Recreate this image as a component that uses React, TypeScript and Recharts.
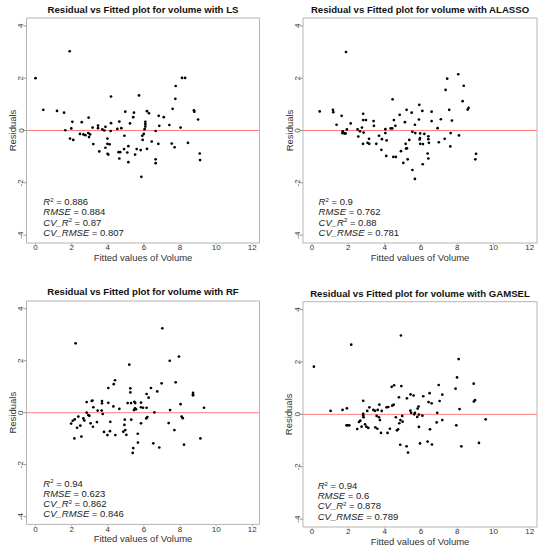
import React from 'react';
import { ScatterChart, Scatter, XAxis, YAxis, ReferenceLine, ReferenceArea } from 'recharts';

const FONT = '"Liberation Sans", Arial, sans-serif';

const xTicks = [0, 2, 4, 6, 8, 10, 12];
const yTicks = [-4, -2, 0, 2, 4];
const xDomain = [-0.5, 12.4];
const yDomain = [-4.3, 4.3];

const methods = ['LS', 'ALASSO', 'RF', 'GAMSEL'];

// stats: R^2, RMSE, CV_R^2, CV_RMSE
const statsLS = ['0.886', '0.884', '0.87', '0.807'];
const statsALASSO = ['0.9', '0.762', '0.88', '0.781'];
const statsRF = ['0.94', '0.623', '0.862', '0.846'];
const statsGAMSEL = ['0.94', '0.6', '0.878', '0.789'];

const fittedLS = [
  1.89, 0.0, 8.11, 8.28, 7.76, 7.74, 4.18, 5.73, 7.59, 0.43, 1.19, 1.58, 8.77, 8.79, 9.0, 2.94,
  2.04, 2.56, 4.97, 5.45, 5.41, 6.17, 6.28, 6.82, 7.1, 5.23, 4.64, 4.18, 6.08, 6.08, 6.08, 6.04,
  6.85, 7.41, 8.03, 1.65, 1.98, 3.16, 3.46, 3.46, 3.7, 3.87, 4.16, 3.81, 4.53, 4.75, 6.65, 2.46,
  2.65, 2.76, 2.92, 3.02, 2.96, 1.91, 2.09, 3.2, 3.98, 4.92, 5.91, 5.99, 5.93, 3.98, 4.1, 3.53,
  3.87, 3.99, 4.03, 4.6, 4.69, 4.64, 4.9, 5.08, 5.14, 5.14, 5.51, 5.6, 5.82, 6.17, 6.43, 6.8,
  7.54, 7.7, 8.44, 6.65, 6.65, 5.86, 9.09, 9.11,
];
const residLS = [
  3.03, 2.0, 2.01, 2.01, 1.7, 1.21, 1.3, 1.34, 0.83, 0.79, 0.75, 0.68, 0.77, 0.72, 0.42, 0.49,
  0.33, 0.32, 0.72, 0.68, 0.51, 0.74, 0.66, 0.56, 0.51, 0.27, 0.34, 0.28, 0.33, 0.24, 0.15, 0.05,
  0.18, 0.21, 0.11, 0.01, 0.08, 0.11, 0.19, 0.09, 0.04, 0.14, -0.02, 0.0, 0.06, 0.09, -0.02, -0.13,
  -0.15, -0.18, -0.1, -0.15, -0.25, -0.31, -0.36, -0.52, -0.31, -0.2, -0.2, -0.13, -0.36, -0.51, -0.53, -0.8,
  -0.66, -0.89, -0.92, -0.83, -0.83, -1.07, -0.71, -0.84, -0.6, -1.21, -0.92, -0.71, -0.75, -0.7, -0.42, -0.51,
  -0.5, -0.64, -0.47, -1.1, -1.25, -1.77, -0.88, -1.13,
];

const fittedALASSO = [
  1.87, 8.06, 7.45, 8.36, 7.36, 8.3, 4.44, 8.63, 8.58, 0.42, 1.15, 1.17, 1.63, 1.35, 2.13, 1.69,
  1.78, 1.85, 1.67, 1.92, 2.51, 2.55, 2.64, 2.75, 2.82, 2.82, 2.97, 2.84, 2.81, 3.06, 3.14, 3.15,
  3.39, 3.41, 3.54, 3.69, 3.85, 3.82, 4.04, 4.04, 4.11, 4.09, 4.33, 4.42, 4.51, 4.59, 4.48, 4.62,
  4.83, 4.9, 5.12, 5.21, 5.16, 5.18, 5.23, 5.03, 5.27, 5.36, 5.49, 5.53, 5.67, 5.69, 5.89, 5.91,
  5.96, 5.95, 5.93, 5.96, 6.08, 6.19, 6.11, 6.1, 5.53, 5.67, 6.41, 6.41, 6.44, 6.37, 6.41, 6.59,
  6.59, 6.92, 6.99, 7.1, 7.31, 7.56, 7.71, 7.64, 7.62, 8.1, 9.04, 9.0,
];
const residALASSO = [
  3.0, 2.15, 1.98, 1.71, 1.55, 1.12, 1.19, 0.87, 0.8, 0.73, 0.79, 0.7, 0.56, 0.22, 0.27, -0.03,
  -0.11, -0.11, -0.1, 0.04, 0.04, -0.23, -0.03, 0.11, 0.64, 0.4, 0.4, -0.08, -0.51, -0.47, -0.32, -0.51,
  0.36, 0.18, -0.51, -0.2, -0.33, -0.74, 0.05, -0.1, -0.38, -0.97, 0.08, 0.08, 0.4, 0.18, -1.01, -1.01,
  0.6, -0.79, 0.32, 0.79, -0.51, -0.69, -0.68, -1.24, -1.1, -0.36, 0.68, -0.05, 0.22, -0.1, 0.42, 0.98,
  -0.11, -0.29, -0.34, -0.51, 0.75, -0.13, -0.52, -1.29, -1.51, -1.85, -0.22, -0.33, -0.47, -0.88, -1.07, 0.72,
  0.36, 0.09, -0.45, 0.43, -0.32, 0.79, 0.38, -0.1, -0.61, -0.19, -0.89, -1.1,
];

const fittedRF = [
  7.02, 2.22, 7.94, 7.43, 5.19, 7.76, 4.4, 4.33, 4.03, 6.98, 6.39, 6.74, 5.25, 5.25, 8.72, 8.72,
  8.72, 6.15, 6.26, 2.83, 3.11, 3.15, 3.68, 3.68, 4.03, 4.31, 4.64, 5.1, 5.29, 5.47, 5.52, 5.84,
  5.95, 6.15, 5.51, 5.45, 5.56, 5.84, 3.2, 3.44, 3.66, 3.72, 2.83, 2.92, 2.98, 8.03, 9.33, 7.45,
  6.58, 6.19, 6.13, 8.09, 8.15, 2.37, 2.17, 2.06, 1.97, 2.65, 2.7, 2.3, 2.48, 3.05, 3.18, 3.4,
  4.14, 4.12, 4.94, 4.92, 5.3, 5.84, 4.97, 3.79, 3.98, 4.42, 4.86, 5.03, 5.66, 7.37, 7.69, 2.15,
  2.54, 5.41, 5.38, 5.67, 6.52, 6.85, 8.22, 9.13,
];
const residRF = [
  3.25, 2.67, 2.16, 2.0, 1.85, 1.17, 1.25, 1.1, 0.95, 1.13, 0.95, 0.82, 0.94, 0.78, 0.76, 0.69,
  0.67, 0.72, 0.58, 0.41, 0.45, 0.47, 0.45, 0.36, 0.38, 0.24, 0.15, 0.37, 0.37, 0.42, 0.37, 0.39,
  0.19, 0.19, 0.17, 0.1, 0.13, 0.21, 0.21, 0.08, 0.08, -0.05, 0.0, -0.09, -0.12, 0.33, 0.19, 0.1,
  0.01, -0.17, -0.22, -0.15, -0.21, -0.15, -0.26, -0.31, -0.42, -0.22, -0.3, -0.58, -0.5, -0.41, -0.54, -0.36,
  -0.35, -0.71, -0.27, -0.47, -0.27, -0.41, -0.67, -0.74, -0.86, -0.86, -0.73, -0.85, -0.81, -0.4, -0.67, -0.99,
  -0.92, -1.36, -1.55, -1.15, -1.18, -1.34, -1.23, -0.99,
];

const fittedGAMSEL = [
  4.9, 2.16, 0.1, 8.08, 7.99, 8.91, 7.91, 6.98, 4.39, 4.52, 4.92, 7.18, 6.48, 6.13, 5.43, 5.6,
  5.23, 4.79, 7.03, 8.98, 8.92, 6.42, 6.59, 4.5, 4.42, 4.2, 4.11, 3.71, 2.82, 3.16, 3.04, 3.38,
  3.47, 3.62, 3.84, 5.87, 5.82, 5.42, 5.46, 5.67, 5.63, 5.89, 6.08, 5.8, 8.13, 6.9, 1.02, 1.68,
  1.92, 2.82, 2.82, 2.84, 3.56, 3.69, 3.74, 4.62, 4.97, 4.87, 4.81, 4.74, 4.68, 4.99, 7.18, 6.87,
  9.57, 7.95, 5.89, 6.5, 1.96, 2.05, 1.9, 2.59, 2.66, 2.49, 2.92, 2.99, 3.1, 2.73, 3.49, 3.6,
  3.8, 4.16, 4.29, 4.86, 5.21, 5.29, 5.95, 6.37, 6.61, 8.23, 9.2,
];
const residGAMSEL = [
  3.01, 2.66, 1.82, 2.11, 1.41, 1.17, 0.98, 1.12, 1.05, 1.11, 1.08, 0.75, 0.81, 0.69, 0.76, 0.72,
  0.61, 0.65, 0.51, 0.54, 0.49, 0.47, 0.42, 0.37, 0.33, 0.28, 0.27, 0.37, 0.52, 0.27, 0.13, 0.17,
  0.13, 0.17, 0.13, 0.3, 0.22, 0.14, 0.06, 0.06, 0.0, -0.01, -0.05, -0.1, 0.2, 0.06, 0.13, 0.17,
  0.23, 0.02, -0.04, -0.11, -0.06, -0.11, -0.22, -0.11, -0.06, -0.22, -0.34, -0.57, -0.61, -0.28, -0.22, -0.31,
  -0.19, -0.42, -0.48, -0.57, -0.42, -0.42, -0.42, -0.29, -0.24, -0.56, -0.38, -0.47, -0.52, -0.47, -0.5, -0.55,
  -0.71, -0.71, -0.55, -1.16, -1.22, -1.46, -1.11, -1.04, -1.15, -1.22, -1.09,
];

type Box = { left: number; top: number; width: number; height: number };
type Margin = { top: number; right: number; bottom: number; left: number };

const XTick = (props: any) => {
  const { x, y, payload } = props;
  return (
    <text x={x} y={y + 5.2} textAnchor="middle" fontSize={8} fill="#333" fontFamily={FONT}>
      {payload.value}
    </text>
  );
};

const YTick = (props: any) => {
  const { x, y, payload } = props;
  return (
    <text x={x} y={y} transform={`rotate(-90 ${x} ${y})`} textAnchor="middle" fontSize={8} fill="#333" fontFamily={FONT}>
      {payload.value}
    </text>
  );
};

const XTitle = (props: any) => {
  const vb = props.viewBox;
  if (!vb) return null;
  return (
    <text x={vb.x + vb.width / 2} y={vb.y + 17.5} textAnchor="middle" fontSize={9.5} fill="#333" fontFamily={FONT}>
      Fitted values of Volume
    </text>
  );
};

const YTitle = (props: any) => {
  const vb = props.viewBox;
  if (!vb) return null;
  const x = vb.x + vb.width - 10.5;
  const y = vb.y + vb.height / 2;
  return (
    <text x={x} y={y} transform={`rotate(-90 ${x} ${y})`} textAnchor="middle" fontSize={9.5} fill="#333" fontFamily={FONT}>
      Residuals
    </text>
  );
};

const PanelTitle = (props: any) => {
  const vb = props.viewBox;
  if (!vb) return null;
  return (
    <text x={vb.x + vb.width / 2} y={vb.y - props.gap} textAnchor="middle" fontSize={9.6} fontWeight="bold" fill="#111" fontFamily={FONT}>
      {props.text}
    </text>
  );
};

const Dot = (props: any) => {
  const { cx, cy } = props;
  if (cx == null || cy == null || isNaN(cx) || isNaN(cy)) return null;
  return <circle cx={cx} cy={cy} r={1.35} fill="#000" />;
};

const StatsBlock = ({ cx, cy, stats }: { cx: number; cy: number; stats: string[] }) => {
  if (cx == null || cy == null || isNaN(cx) || isNaN(cy)) return null;
  const lh = 10.1;
  return (
    <g fill="#222" fontSize={9.5} fontFamily={FONT}>
      <text x={cx} y={cy}>
        <tspan fontStyle="italic">R</tspan>
        <tspan dy={-3.5} fontSize={6}>2</tspan>
        <tspan dy={3.5}>{` = ${stats[0]}`}</tspan>
      </text>
      <text x={cx} y={cy + lh}>
        <tspan fontStyle="italic">RMSE</tspan>
        <tspan>{` = ${stats[1]}`}</tspan>
      </text>
      <text x={cx} y={cy + lh * 2}>
        <tspan fontStyle="italic">CV_R</tspan>
        <tspan dy={-3.5} fontSize={6}>2</tspan>
        <tspan dy={3.5}>{` = ${stats[2]}`}</tspan>
      </text>
      <text x={cx} y={cy + lh * 3}>
        <tspan fontStyle="italic">CV_RMSE</tspan>
        <tspan>{` = ${stats[3]}`}</tspan>
      </text>
    </g>
  );
};

const Panel = ({
  method, fitted, resid, stats, box, margin, titleGap, statsX,
}: {
  method: string; fitted: number[]; resid: number[]; stats: string[];
  box: Box; margin: Margin; titleGap: number; statsX: number;
}) => {
  const points = fitted.map((x, i) => ({ x, y: resid[i] }));
  const statsAnchor = [{ x: statsX, y: -2.86 }];
  return (
    <div style={{ position: 'absolute', left: box.left, top: box.top, width: box.width, height: box.height }}>
      <ScatterChart width={box.width} height={box.height} margin={margin}>
        <XAxis
          type="number"
          dataKey="x"
          domain={xDomain}
          ticks={xTicks}
          allowDataOverflow
          height={20}
          axisLine={false}
          tickSize={2}
          tickMargin={0}
          tickLine={{ stroke: '#bbb' }}
          tick={XTick}
          label={<XTitle />}
        />
        <YAxis
          type="number"
          dataKey="y"
          domain={yDomain}
          ticks={yTicks}
          allowDataOverflow
          width={20}
          axisLine={false}
          tickSize={3}
          tickMargin={0}
          tickLine={{ stroke: '#999' }}
          tick={YTick}
          label={<YTitle />}
        />
        <ReferenceArea
          x1={xDomain[0]}
          x2={xDomain[1]}
          y1={yDomain[0]}
          y2={yDomain[1]}
          fill="none"
          stroke="#b5b5b5"
          strokeWidth={1}
          ifOverflow="visible"
          label={<PanelTitle text={`Residual vs Fitted plot for volume with ${method}`} gap={titleGap} />}
        />
        <ReferenceLine y={0} stroke="#ff8080" strokeWidth={1} />
        <Scatter data={points} shape={Dot} isAnimationActive={false} />
        <Scatter
          data={statsAnchor}
          isAnimationActive={false}
          shape={(p: any) => <StatsBlock cx={p.cx} cy={p.cy} stats={stats} />}
        />
      </ScatterChart>
    </div>
  );
};

export default function App() {
  return (
    <div style={{ position: 'absolute', left: 0, top: 0, width: 543, height: 550, background: '#fff' }}>
      <Panel
        method={methods[0]} fitted={fittedLS} resid={residLS} stats={statsLS}
        box={{ left: 0, top: 0, width: 272, height: 275 }}
        margin={{ top: 18, right: 12.5, bottom: 12, left: 6.5 }}
        titleGap={5.2} statsX={0.43}
      />
      <Panel
        method={methods[1]} fitted={fittedALASSO} resid={residALASSO} stats={statsALASSO}
        box={{ left: 272, top: 0, width: 271, height: 275 }}
        margin={{ top: 18, right: 6, bottom: 12, left: 11 }}
        titleGap={5.2} statsX={0.36}
      />
      <Panel
        method={methods[2]} fitted={fittedRF} resid={residRF} stats={statsRF}
        box={{ left: 0, top: 275, width: 272, height: 275 }}
        margin={{ top: 26, right: 12.5, bottom: 5.6, left: 6.5 }}
        titleGap={6.5} statsX={0.43}
      />
      <Panel
        method={methods[3]} fitted={fittedGAMSEL} resid={residGAMSEL} stats={statsGAMSEL}
        box={{ left: 272, top: 275, width: 271, height: 275 }}
        margin={{ top: 26.7, right: 6, bottom: 3, left: 11 }}
        titleGap={4.9} statsX={0.31}
      />
    </div>
  );
}
